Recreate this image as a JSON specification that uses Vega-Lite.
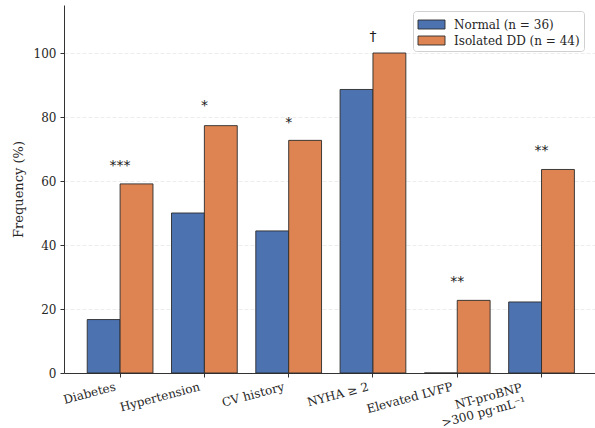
{
  "$schema": "https://vega.github.io/schema/vega-lite/v6.json",
  "width": 531,
  "height": 368,
  "autosize": {"type": "none"},
  "padding": {"left": 64, "top": 5, "right": 0, "bottom": 55},
  "background": "white",
  "config": {
    "view": {"stroke": null},
    "font": "DejaVu Serif",
    "axis": {
      "labelFont": "DejaVu Serif",
      "titleFont": "DejaVu Serif",
      "labelColor": "#262626",
      "titleColor": "#262626",
      "domainColor": "#333333",
      "tickColor": "#333333",
      "tickSize": 4,
      "domainWidth": 1,
      "tickWidth": 1
    },
    "legend": {"labelFont": "DejaVu Serif"}
  },
  "datasets": {
    "bars": [
      {"cat": "Diabetes", "group": "Normal (n = 36)", "value": 16.7},
      {"cat": "Diabetes", "group": "Isolated DD (n = 44)", "value": 59.1},
      {"cat": "Hypertension", "group": "Normal (n = 36)", "value": 50.0},
      {"cat": "Hypertension", "group": "Isolated DD (n = 44)", "value": 77.3},
      {"cat": "CV history", "group": "Normal (n = 36)", "value": 44.4},
      {"cat": "CV history", "group": "Isolated DD (n = 44)", "value": 72.7},
      {"cat": "NYHA ≥ 2", "group": "Normal (n = 36)", "value": 88.6},
      {"cat": "NYHA ≥ 2", "group": "Isolated DD (n = 44)", "value": 100.0},
      {"cat": "Elevated LVFP", "group": "Normal (n = 36)", "value": 0.0},
      {"cat": "Elevated LVFP", "group": "Isolated DD (n = 44)", "value": 22.7},
      {"cat": "NT-proBNP\n>300 pg·mL⁻¹", "group": "Normal (n = 36)", "value": 22.2},
      {"cat": "NT-proBNP\n>300 pg·mL⁻¹", "group": "Isolated DD (n = 44)", "value": 63.6}
    ],
    "ann": [
      {"cat": "Diabetes", "label": "***", "ypos": 64.8},
      {"cat": "Hypertension", "label": "*", "ypos": 83.3},
      {"cat": "CV history", "label": "*", "ypos": 78.0},
      {"cat": "NYHA ≥ 2", "label": "†", "ypos": 105},
      {"cat": "Elevated LVFP", "label": "**", "ypos": 28.3},
      {"cat": "NT-proBNP\n>300 pg·mL⁻¹", "label": "**", "ypos": 69.3}
    ]
  },
  "layer": [
    {
      "data": {"name": "bars"},
      "mark": {"type": "bar", "stroke": "#2b2b2b", "strokeWidth": 0.9},
      "encoding": {
        "x": {
          "field": "cat",
          "type": "nominal",
          "sort": null,
          "scale": {"paddingInner": 0.22, "paddingOuter": 0.26, "align": 0.53},
          "axis": {
            "title": null,
            "labelAngle": -15,
            "labelAlign": "right",
            "labelBaseline": "top",
            "labelFontSize": 12,
            "labelPadding": {"condition": {"test": "indexof(datum.value, 'NT') === 0", "value": 5}, "value": 4},
            "labelOffset": {"condition": {"test": "indexof(datum.value, 'NT') === 0", "value": -21}, "value": -6},
            "labelExpr": "split(datum.label, '\\n')",
            "labelLineHeight": 14,
            "grid": false,
            "labelLimit": 0
          }
        },
        "xOffset": {
          "field": "group",
          "type": "nominal",
          "sort": ["Normal (n = 36)", "Isolated DD (n = 44)"],
          "scale": {"paddingInner": 0, "paddingOuter": 0}
        },
        "y": {
          "field": "value",
          "type": "quantitative",
          "scale": {"domain": [0, 115], "nice": false},
          "axis": {
            "title": "Frequency (%)",
            "titleFontSize": 13,
            "titleFontWeight": "normal",
            "titlePadding": 8,
            "labelFontSize": 12,
            "labelPadding": 4,
            "values": [0, 20, 40, 60, 80, 100],
            "grid": true,
            "gridColor": "#e8e8e8",
            "gridDash": [4, 2],
            "gridWidth": 0.8
          }
        },
        "color": {
          "field": "group",
          "type": "nominal",
          "sort": ["Normal (n = 36)", "Isolated DD (n = 44)"],
          "scale": {"range": ["#4C72B0", "#DD8452"]},
          "legend": {
            "title": null,
            "orient": "none",
            "legendX": 349,
            "legendY": 6,
            "direction": "vertical",
            "padding": 4,
            "fillColor": "white",
            "strokeColor": "#d0d0d0",
            "cornerRadius": 3,
            "symbolType": "M-1.5,-0.5H1.5V0.5H-1.5Z",
            "symbolSize": 324,
            "symbolStrokeColor": "#2b2b2b",
            "symbolStrokeWidth": 0.9,
            "symbolOpacity": 1,
            "symbolOffset": 5,
            "labelOffset": 13,
            "labelFontSize": 12,
            "labelColor": "#262626",
            "rowPadding": 0
          }
        }
      }
    },
    {
      "data": {"name": "ann"},
      "mark": {"type": "text", "fontSize": 14, "baseline": "middle", "align": "center", "color": "#1a1a1a", "font": "DejaVu Sans"},
      "encoding": {
        "x": {"field": "cat", "type": "nominal", "sort": null},
        "y": {"field": "ypos", "type": "quantitative"},
        "text": {"field": "label"}
      }
    }
  ]
}
